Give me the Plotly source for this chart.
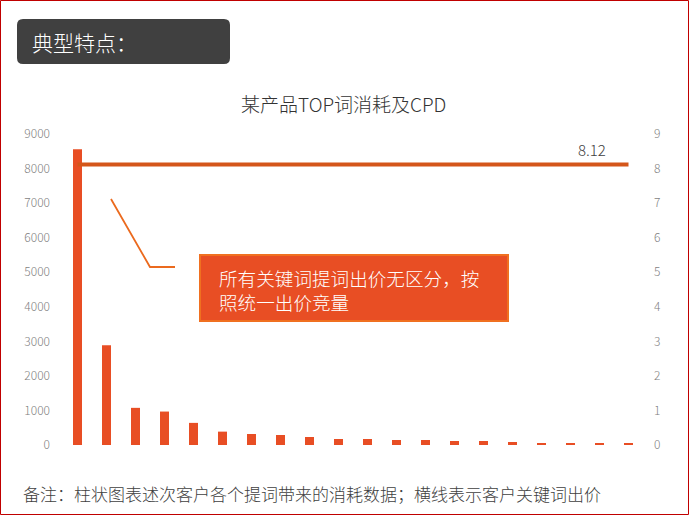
import plotly.graph_objects as go

# top keywords, spend per keyword (bars) and bid/CPD (line)
keywords = ["词01", "词02", "词03", "词04", "词05", "词06", "词07", "词08", "词09", "词10",
            "词11", "词12", "词13", "词14", "词15", "词16", "词17", "词18", "词19", "词20"]
spend = [8560, 2885, 1075, 968, 640, 387, 319, 290, 232, 174,
         174, 145, 145, 116, 116, 87, 58, 58, 58, 58]
cpd = [8.12, 8.12, 8.12, 8.12, 8.12, 8.12, 8.12, 8.12, 8.12, 8.12,
       8.12, 8.12, 8.12, 8.12, 8.12, 8.12, 8.12, 8.12, 8.12, 8.12]
left_ticks = [0, 1000, 2000, 3000, 4000, 5000, 6000, 7000, 8000, 9000]
right_ticks = [0, 1, 2, 3, 4, 5, 6, 7, 8, 9]

W, H = 689, 515
L, R, T, B = 63, 46, 134, 70
PW, PH = W - L - R, H - T - B
FONT = "Noto Sans CJK SC"


def px(x):
    """pixel x -> paper x"""
    return (x - L) / PW


def py(y):
    """pixel y (from top) -> paper y"""
    return (H - B - y) / PH


def rounded_rect(x0, y0, x1, y1, r):
    """SVG path of a rounded rectangle given in pixels, output in paper coords"""
    rx, ry = r / PW, r / PH
    a, b, c, d = px(x0), py(y1), px(x1), py(y0)
    return (f"M {a + rx},{b} L {c - rx},{b} Q {c},{b} {c},{b + ry} "
            f"L {c},{d - ry} Q {c},{d} {c - rx},{d} L {a + rx},{d} "
            f"Q {a},{d} {a},{d - ry} L {a},{b + ry} Q {a},{b} {a + rx},{b} Z")


fig = go.Figure()
fig.add_trace(go.Bar(x=keywords, y=spend, marker=dict(color="#E84E24", line=dict(width=0)),
                     yaxis="y"))
fig.add_trace(go.Scatter(x=keywords, y=cpd, mode="lines", yaxis="y2",
                         line=dict(color="#D4561A", width=4)))

tick_font = dict(family=FONT, size=12, color="#7F7F7F", weight=300)
fig.update_layout(
    width=W, height=H,
    margin=dict(l=L, r=R, t=T, b=B, autoexpand=False),
    paper_bgcolor="white", plot_bgcolor="white",
    showlegend=False, bargap=0.69,
    font=dict(family=FONT, weight=300),
    xaxis=dict(showticklabels=False, showgrid=False, zeroline=False, showline=False,
               range=[-0.5, 19.5]),
    yaxis=dict(range=[0, 9000], tickvals=left_ticks, showgrid=False, zeroline=False,
               showline=False, tickfont=tick_font, ticks="", ticklabelstandoff=12),
    yaxis2=dict(range=[0, 9], tickvals=right_ticks, overlaying="y", side="right",
                showgrid=False, zeroline=False, showline=False, tickfont=tick_font,
                ticks="", ticklabelstandoff=10),
)

shapes = [
    # outer red frame
    dict(type="rect", xref="paper", yref="paper", x0=px(0.5), x1=px(688.5),
         y0=py(514.5), y1=py(0.5), line=dict(color="#C00000", width=1)),
    # header box
    dict(type="path", xref="paper", yref="paper", path=rounded_rect(17, 19, 230, 64, 6),
         fillcolor="#404040", line=dict(width=0)),
    # callout box
    dict(type="rect", xref="paper", yref="paper", x0=px(200), x1=px(508),
         y0=py(321), y1=py(255), fillcolor="#E84E24", line=dict(color="#F07020", width=2)),
    # callout leader line
    dict(type="path", xref="paper", yref="paper",
         path=f"M {px(111)},{py(199)} L {px(150)},{py(267)} L {px(175)},{py(267)}",
         line=dict(color="#EB6A1E", width=1.8)),
]

annotations = [
    dict(text="典型特点：", x=px(30), y=py(42), xanchor="left", yanchor="middle",
         font=dict(family=FONT, size=21, color="white", weight=300)),
    dict(text="某产品TOP词消耗及CPD", x=px(343), y=py(103), xanchor="center", yanchor="middle",
         font=dict(family=FONT, size=19, color="#333333", weight=300)),
    dict(text="所有关键词提词出价无区分，按<br>照统一出价竞量", x=px(217), y=py(289),
         xanchor="left", yanchor="middle", align="left",
         font=dict(family=FONT, size=18.6, color="white", weight=300)),
    dict(text="备注：柱状图表述次客户各个提词带来的消耗数据；横线表示客户关键词出价",
         x=px(21), y=py(493), xanchor="left", yanchor="middle",
         font=dict(family=FONT, size=17, color="#404040", weight=300)),
    dict(text=f"{cpd[-1]:.2f}", x=px(592), y=py(149), xanchor="center", yanchor="middle",
         font=dict(family=FONT, size=15, color="#404040", weight=300)),
]
for a in annotations:
    a.update(xref="paper", yref="paper", showarrow=False)

fig.update_layout(shapes=shapes, annotations=annotations)
# page body has a default 8px margin; drop it so the figure sits at the window corner
fig.write_html("out.html", config={"displayModeBar": False},
               post_script="document.body.style.margin='0';")
